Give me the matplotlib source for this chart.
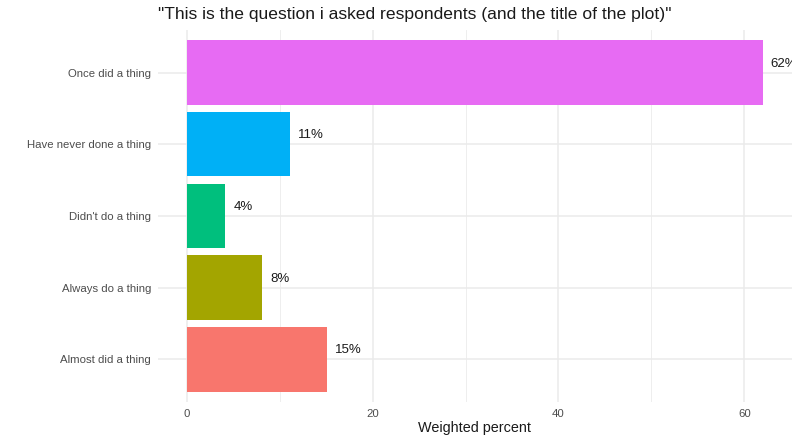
import matplotlib
matplotlib.use("Agg")
import matplotlib.pyplot as plt
from matplotlib.ticker import MultipleLocator

categories = ["Almost did a thing", "Always do a thing", "Didn't do a thing",
              "Have never done a thing", "Once did a thing"]
values = [15.13, 8.14, 4.16, 11.15, 61.98]
labels = ["15%", "8%", "4%", "11%", "62%"]
colors = ["#F8766D", "#A3A500", "#00BF7D", "#00B0F6", "#E76BF3"]
title = "\"This is the question i asked respondents (and the title of the plot)\""
xlabel = "Weighted percent"

plt.rcParams['font.family'] = ['Liberation Sans', 'DejaVu Sans']

W, H = 799, 443
fig = plt.figure(figsize=(W / 100, H / 100), dpi=100)
left, right, top, bottom = 158, 791.5, 29.5, 402.3
ax = fig.add_axes([left / W, 1 - bottom / H, (right - left) / W, (bottom - top) / H])

ypos = list(range(len(categories)))
ax.barh(ypos, values, height=0.9, color=colors, zorder=2)
for y, v, lab in zip(ypos, values, labels):
    t = ax.annotate(lab, (v, y), xytext=(8, 9), textcoords="offset pixels",
                    ha="left", va="center", fontsize=9.5, color="#1a1a1a", zorder=3,
                    annotation_clip=False)
    t.set_clip_on(True)
    t.set_clip_box(ax.bbox)

vmax = max(values)
ax.set_xlim(-0.05 * vmax, vmax * 1.05)
ax.set_ylim(-0.6, len(categories) - 0.4)
ax.set_yticks(ypos)
ax.set_yticklabels(categories)
ax.xaxis.set_major_locator(MultipleLocator(20))
ax.xaxis.set_minor_locator(MultipleLocator(10))

ax.grid(True, which="major", color="#EBEBEB", linewidth=1.1, zorder=0)
ax.grid(True, which="minor", axis="x", color="#EBEBEB", linewidth=0.6, zorder=0)
ax.set_axisbelow(True)
for s in ax.spines.values():
    s.set_visible(False)
ax.tick_params(axis="both", which="both", length=0, colors="#4D4D4D", labelsize=8.2)
ax.tick_params(axis="y", pad=5)
ax.tick_params(axis="x", pad=5)

ax.set_xlabel(xlabel, fontsize=10.4, color="#1a1a1a", labelpad=1.5)
fig.text(left / W, 1 - 14 / H, title, fontsize=12.6, color="#1a1a1a",
         ha="left", va="center")

fig.savefig("out.png", dpi=100, facecolor="white")
